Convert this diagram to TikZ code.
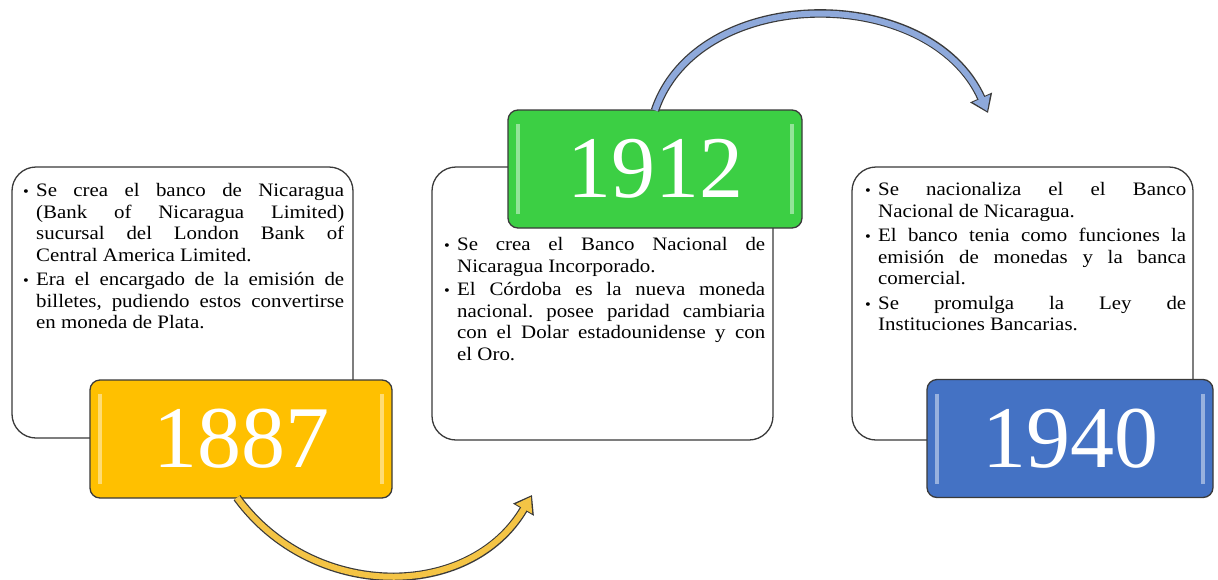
\documentclass[tikz,border=0pt]{standalone}
\usepackage{fontspec}
\setmainfont{Liberation Serif}
\newfontfamily\bodyfont[FakeStretch=1.1]{Liberation Serif}
\usetikzlibrary{arrows.meta}
\definecolor{gold}{HTML}{FFC000}
\definecolor{leaf}{HTML}{3CCF44}
\definecolor{steel}{HTML}{4472C4}
\definecolor{goldarrow}{HTML}{F4C445}
\definecolor{bluearrow}{HTML}{8EA9DB}
\definecolor{edge}{HTML}{3A3A3A}
\frenchspacing

\newcommand{\bitem}[1]{\par\hangindent=14pt\hangafter=1\noindent\makebox[14pt][l]{\hspace{1pt}{\fontsize{15}{15}\selectfont\textbullet}}#1\par}

\begin{document}
\begin{tikzpicture}[x=1pt, y=-1pt,
  card/.style={draw=edge, line width=1.3pt, fill=white, rounded corners=24pt, minimum width=341pt, minimum height=#1, inner sep=0pt},
  year/.style={draw=edge, line width=1.3pt, fill=#1, rounded corners=10pt, inner sep=0pt, minimum height=118pt, text=white, font=\fontsize{88}{88}\selectfont,
    path picture={\draw[white, opacity=.45, line width=3.5pt] ([xshift=10pt,yshift=-14pt]path picture bounding box.north west) -- ([xshift=10pt,yshift=14pt]path picture bounding box.south west);
      \draw[white, opacity=.45, line width=3.5pt] ([xshift=-10pt,yshift=-14pt]path picture bounding box.north east) -- ([xshift=-10pt,yshift=14pt]path picture bounding box.south east);}},
  notes/.style={anchor=north west, inner sep=0pt, text width=322pt, align=justify, font=\bodyfont\fontsize{19}{21.5}\selectfont},
  outer/.style={line width=8.5pt, edge, -{Triangle[length=17pt, width=23pt]}},
  inner/.style={line width=6pt, #1, shorten >=2pt, -{Triangle[length=14pt, width=18pt]}}]

\useasboundingbox[fill=white] (0,0) rectangle (1218,579);

\node[card=271pt] (card1887) at (182.5,302.5) {};
\node[card=273pt] (card1912) at (602.5,303.5) {};
\node[card=273pt] (card1940) at (1022.5,303.5) {};

\node[year=gold, minimum width=302pt] (y1887) at (241,439) {1887};
\node[year=leaf, minimum width=294pt] (y1912) at (655,169) {1912};
\node[year=steel, minimum width=286pt] (y1940) at (1070,438.5) {1940};

\coordinate (tip1912) at (532,495);
\coordinate (tip1940) at (988,113);

\draw[outer] ([xshift=-4pt,yshift=1pt]y1887.south) .. controls +(76,104) and +(-62,106) .. (tip1912);
\draw[inner=goldarrow] ([xshift=-4pt,yshift=1pt]y1887.south) .. controls +(76,104) and +(-62,106) .. (tip1912);
\draw[outer] ([yshift=-1pt]y1912.north) .. controls +(43,-127) and +(-58,-130) .. (tip1940);
\draw[inner=bluearrow] ([yshift=-1pt]y1912.north) .. controls +(43,-127) and +(-58,-130) .. (tip1940);

\node[notes] (t1887) at (22,172) {\setlength{\parskip}{3pt}\tolerance=10000
\bitem{Se crea el banco de Nicaragua\linebreak (Bank of Nicaragua Limited)\linebreak sucursal del London Bank of\linebreak Central America Limited.}
\bitem{Era el encargado de la emisión de\linebreak billetes, pudiendo estos convertirse\linebreak en moneda de Plata.}};

\node[notes] (t1912) at (443,227) {\setlength{\parskip}{2pt}\tolerance=10000
\bitem{Se crea el Banco Nacional de\linebreak Nicaragua Incorporado.}
\bitem{El Córdoba es la nueva moneda\linebreak nacional. posee paridad cambiaria\linebreak con el Dolar estadounidense y con\linebreak el Oro.}};

\node[notes] (t1940) at (864,171) {\setlength{\parskip}{3pt}\tolerance=10000
\bitem{Se nacionaliza el el Banco\linebreak Nacional de Nicaragua.}
\bitem{El banco tenia como funciones la\linebreak emisión de monedas y la banca\linebreak comercial.}
\bitem{Se promulga la Ley de\linebreak Instituciones Bancarias.}};

\end{tikzpicture}
\end{document}
